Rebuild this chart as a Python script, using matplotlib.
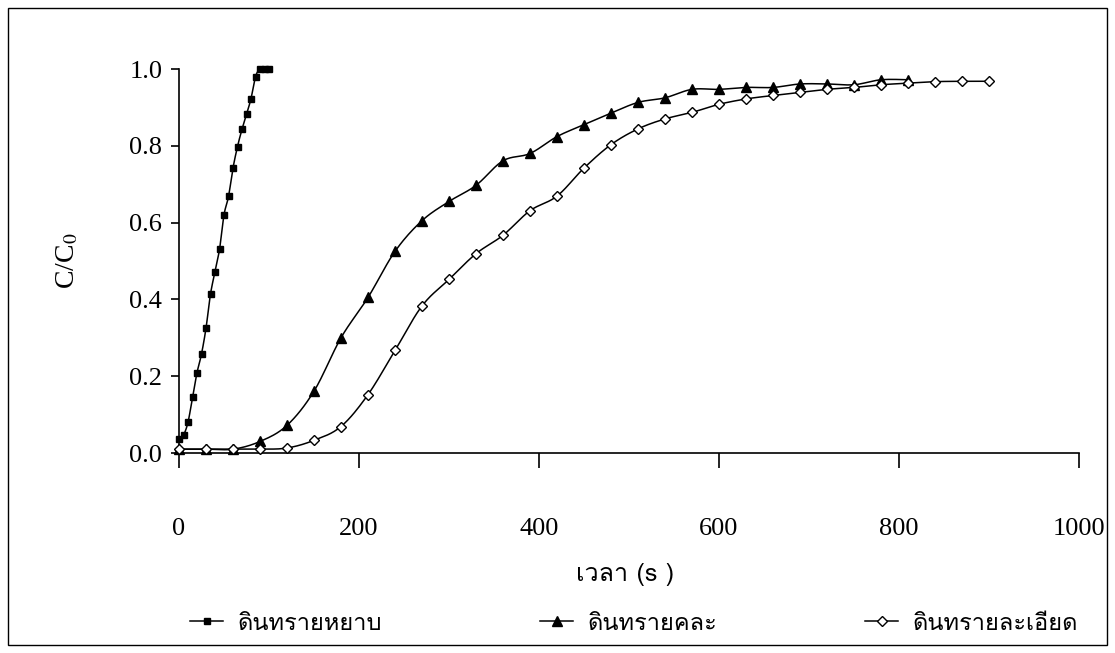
import numpy as np
import matplotlib
matplotlib.use("Agg")
import matplotlib.pyplot as plt
from matplotlib import font_manager
from matplotlib.ft2font import FT2Font
from matplotlib.patches import Rectangle

# data
t_coarse = [0, 5, 10, 15, 20, 25, 30, 35, 40, 45, 50, 55, 60, 65, 70, 75, 80, 85, 90, 95, 100]
c_coarse = [0.037, 0.047, 0.08, 0.145, 0.209, 0.258, 0.325, 0.414, 0.472, 0.53, 0.62,
            0.668, 0.742, 0.798, 0.843, 0.882, 0.923, 0.98, 1.0, 1.0, 1.0]

t_mixed = [0, 30, 60, 90, 120, 150, 180, 210, 240, 270, 300, 330, 360, 390, 420, 450,
           480, 510, 540, 570, 600, 630, 660, 690, 720, 750, 780, 810]
c_mixed = [0.01, 0.01, 0.01, 0.03, 0.072, 0.161, 0.30, 0.405, 0.525, 0.605, 0.655, 0.697,
           0.761, 0.78, 0.824, 0.855, 0.885, 0.913, 0.925, 0.947, 0.947, 0.952, 0.952,
           0.961, 0.961, 0.959, 0.972, 0.972]

t_fine = [0, 30, 60, 90, 120, 150, 180, 210, 240, 270, 300, 330, 360, 390, 420, 450, 480,
          510, 540, 570, 600, 630, 660, 690, 720, 750, 780, 810, 840, 870, 900]
c_fine = [0.01, 0.01, 0.01, 0.01, 0.013, 0.033, 0.069, 0.152, 0.267, 0.383, 0.452, 0.519,
          0.567, 0.631, 0.669, 0.742, 0.803, 0.844, 0.87, 0.887, 0.908, 0.922, 0.931,
          0.939, 0.947, 0.952, 0.959, 0.963, 0.967, 0.968, 0.968]

labels = ["ดินทรายหยาบ", "ดินทรายคละ", "ดินทรายละเอียด"]
x_ticks = [0, 200, 400, 600, 800, 1000]
y_ticks = [0.0, 0.2, 0.4, 0.6, 0.8, 1.0]


def find_thai_font():
    for f in font_manager.fontManager.ttflist:
        try:
            if 0x0E14 in FT2Font(f.fname).get_charmap():
                return f.name
        except Exception:
            pass
    return "DejaVu Sans"


def smooth(x, y, n=16):
    # excel-style smoothed line (catmull-rom through the points)
    p = np.column_stack([x, y]).astype(float)
    out = [p[0]]
    s = np.linspace(0, 1, n + 1)[1:, None]
    for i in range(len(p) - 1):
        p0 = p[i - 1] if i > 0 else p[i]
        p1, p2 = p[i], p[i + 1]
        p3 = p[i + 2] if i + 2 < len(p) else p[i + 1]
        c1 = p1 + (p2 - p0) / 6
        c2 = p2 - (p3 - p1) / 6
        seg = ((1 - s) ** 3) * p1 + 3 * ((1 - s) ** 2) * s * c1 + 3 * (1 - s) * s ** 2 * c2 + s ** 3 * p2
        out.extend(seg)
    out = np.array(out)
    return out[:, 0], out[:, 1]


thai = find_thai_font()
serif = "Liberation Serif"
plt.rcParams["mathtext.fontset"] = "stix"

W, H = 1115, 653
fig = plt.figure(figsize=(W / 100, H / 100), dpi=100)
ax = fig.add_axes([179 / W, 1 - 453 / H, 900 / W, 384 / H])

series = [
    (t_coarse, c_coarse, dict(marker="s", markersize=4.5, markerfacecolor="black")),
    (t_mixed, c_mixed, dict(marker="^", markersize=6.5, markerfacecolor="black")),
    (t_fine, c_fine, dict(marker="D", markersize=4.8, markerfacecolor="white")),
]
handles = []
for (t, c, mk), lab in zip(series, labels):
    sx, sy = smooth(t, c)
    ax.plot(sx, sy, color="black", lw=1.1, clip_on=False, zorder=3)
    ax.plot(t, c, ls="none", markeredgecolor="black", markeredgewidth=1, clip_on=False, zorder=4, **mk)
    h, = ax.plot([], [], color="black", lw=1.1, markeredgecolor="black", **mk)
    handles.append(h)

ax.set_xlim(0, 1000)
ax.set_ylim(0, 1.0)
ax.set_xticks(x_ticks)
ax.set_yticks(y_ticks)
ax.set_yticklabels([f"{v:.1f}" for v in y_ticks])
for s in ["top", "right"]:
    ax.spines[s].set_visible(False)
ax.spines["left"].set_linewidth(1.2)
ax.spines["bottom"].set_linewidth(1.2)
ax.tick_params(axis="x", direction="out", length=11, width=1.2, pad=36, labelsize=19)
ax.tick_params(axis="y", direction="out", length=6, width=1.2, pad=6, labelsize=19)
for lbl in ax.get_xticklabels() + ax.get_yticklabels():
    lbl.set_fontfamily(serif)

fig.text(68 / W, 1 - 261 / H, "C/C$_0$", rotation=90, ha="center", va="center",
         fontsize=20, family=serif)
fig.text(625 / W, 1 - 575 / H, "เวลา (s )", ha="center", va="center",
         fontsize=18, family=[thai, serif])

# one legend per entry so each handle starts where it does in the reference
for h, lab, x0 in zip(handles, labels, [190, 540, 865]):
    fig.legend([h], [lab], loc="center left", bbox_to_anchor=(x0 / W, 1 - 623 / H),
               frameon=False, handlelength=1.4, handletextpad=0.6, borderpad=0,
               borderaxespad=0, prop=dict(family=[thai, serif], size=17))

fig.add_artist(Rectangle((8 / W, 1 - 645 / H), (1107 - 8) / W, (645 - 8) / H,
                         transform=fig.transFigure, fill=False, lw=1, color="black"))

fig.savefig("out.png", dpi=100)
